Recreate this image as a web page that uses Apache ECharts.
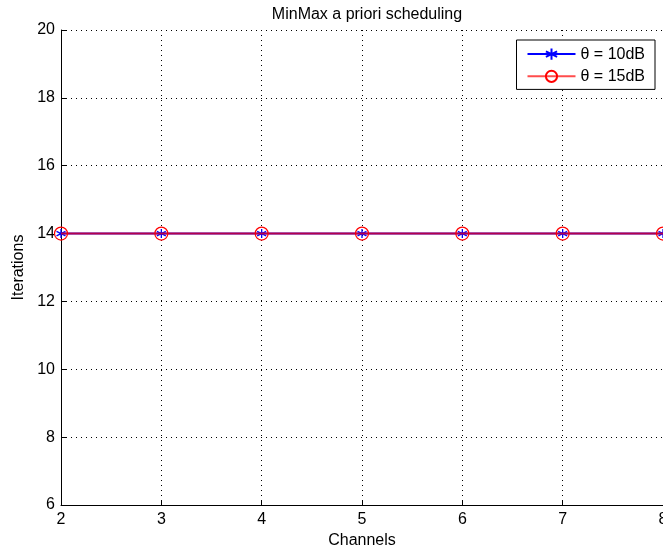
<!DOCTYPE html>
<html><head><meta charset="utf-8">
<script src="https://cdn.jsdelivr.net/npm/echarts@6/dist/echarts.min.js"></script>
<style>html,body{margin:0;padding:0;background:#fff}#c{width:663px;height:554px}</style>
</head><body><div id="c"></div>
<script>
const channels = [2, 3, 4, 5, 6, 7, 8];
const iter10dB = [14, 14, 14, 14, 14, 14, 14];
const iter15dB = [14, 14, 14, 14, 14, 14, 14];
const seriesNames = ['θ = 10dB', 'θ = 15dB'];
const yTicks = [6, 8, 10, 12, 14, 16, 18, 20];

const star = 'path://M0,-10L0,10M-8.66,-5L8.66,5M-8.66,5L8.66,-5';
const ring = 'path://M10,0A10,10,0,1,1,-10,0A10,10,0,1,1,10,0Z';
const font = 'Liberation Sans';
const chart = echarts.init(document.getElementById('c'));
chart.setOption({
  animation: false,
  textStyle: {fontFamily: font},
  title: {text: 'MinMax a priori scheduling', left: 362, top: 2, textAlign: 'center',
    textStyle: {fontFamily: font, fontSize: 16, fontWeight: 'normal', color: '#000'}},
  legend: {
    right: 8, top: 40, orient: 'vertical', padding: [6, 10, 5, 10], itemGap: 6,
    borderColor: '#000', borderWidth: 1, backgroundColor: '#fff',
    itemWidth: 48, itemHeight: 14,
    textStyle: {fontFamily: font, fontSize: 16, color: '#000'},
    data: seriesNames
  },
  grid: {left: 61, right: 0, top: 30, bottom: 49, outerBoundsMode: 'none', containLabel: false},
  xAxis: {
    type: 'value', min: channels[0], max: channels[channels.length - 1], interval: 1,
    name: 'Channels', nameLocation: 'middle', nameGap: 27,
    nameTextStyle: {fontFamily: font, fontSize: 16, color: '#000'},
    axisLine: {lineStyle: {color: '#000'}},
    axisTick: {inside: true, length: 5, lineStyle: {color: '#000'}},
    axisLabel: {fontFamily: font, fontSize: 16, color: '#000', margin: 7},
    splitLine: {show: true, lineStyle: {color: '#000', type: [1, 4], width: 1}}
  },
  yAxis: {
    type: 'value', min: yTicks[0], max: yTicks[yTicks.length - 1], interval: 2,
    name: 'Iterations', nameLocation: 'middle', nameGap: 33, nameRotate: 90,
    nameTextStyle: {fontFamily: font, fontSize: 16, color: '#000'},
    axisLine: {show: true, lineStyle: {color: '#000'}},
    axisTick: {show: true, inside: true, length: 5, lineStyle: {color: '#000'}},
    axisLabel: {fontFamily: font, fontSize: 16, color: '#000', margin: 6},
    splitLine: {show: true, lineStyle: {color: '#000', type: [1, 4], width: 1}}
  },
  series: [
    {name: seriesNames[0], type: 'line', data: channels.map((c, i) => [c, iter10dB[i]]),
      symbol: star, symbolSize: 9, showAllSymbol: true,
      lineStyle: {color: '#0000ff', width: 2},
      itemStyle: {color: 'none', borderColor: '#0000ff', borderWidth: 1.3}, z: 2},
    {name: seriesNames[1], type: 'line', data: channels.map((c, i) => [c, iter15dB[i]]),
      symbol: ring, symbolSize: 13, showAllSymbol: true,
      lineStyle: {color: '#ff0000', width: 2, opacity: 0.7},
      itemStyle: {color: 'none', borderColor: '#ff0000', borderWidth: 1.2}, z: 3}
  ]
});
</script></body></html>
